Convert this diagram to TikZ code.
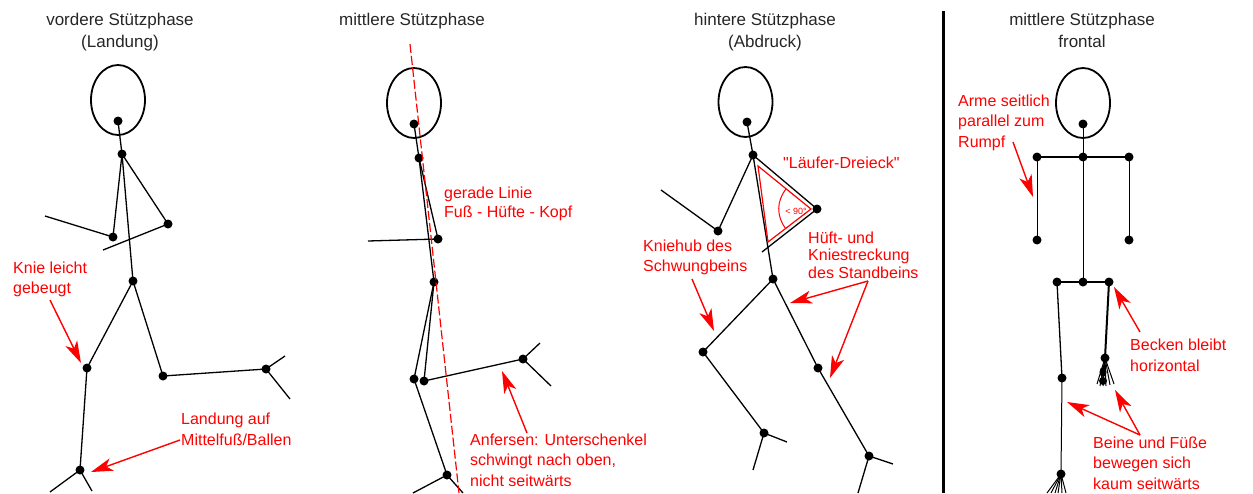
\documentclass[tikz,border=0pt]{standalone}
\usepackage{fontspec}
\setmainfont{Liberation Sans}[Ligatures=TeXOff]
\usetikzlibrary{arrows.meta,shapes.geometric,calc}

\begin{document}
\begin{tikzpicture}[x=1pt,y=-1pt,
  bone/.style={line width=1.3pt, black},
  thin bone/.style={line width=1pt, black},
  joint/.style={circle, fill=black, inner sep=0pt, minimum size=9pt},
  head/.style={draw, ellipse, line width=1.8pt, minimum width=54pt, minimum height=70pt, inner sep=0pt},
  title/.style={align=center, anchor=base, font=\fontsize{17}{22}\selectfont, text=black!85, inner sep=0pt},
  note/.style={align=left, anchor=base west, font=\fontsize{16}{20.5}\selectfont, text=red, inner sep=0pt},
  hint/.style={red, line width=1.4pt, -{Stealth[length=22pt, width=13pt, inset=6pt]}},
]
\useasboundingbox (0,0) rectangle (1253,493);
% multi-line texts are placed by the baseline of their last line

% ---------------- vordere Stuetzphase ----------------
\node[title] (t1) at (120,47) {vordere Stützphase\\(Landung)};
\node[head] (h1) at (118,100) {};
\node[joint] (a-neck) at (118,121) {};
\node[joint] (a-sh) at (122,154) {};
\node[joint] (a-elbL) at (113,237) {};
\node[joint] (a-elbR) at (168,224) {};
\node[joint] (a-hip) at (133,281) {};
\node[joint] (a-kneeF) at (87,368) {};
\node[joint] (a-footF) at (80,470) {};
\node[joint] (a-kneeB) at (163,376) {};
\node[joint] (a-footB) at (266,369) {};
\coordinate (a-handL) at (45,216);
\coordinate (a-handR) at (103,250);
\coordinate (a-toeF1) at (50,492);
\coordinate (a-toeF2) at (92,491);
\coordinate (a-toeB1) at (285,356);
\coordinate (a-toeB2) at (290,399);
\draw[bone] (a-neck.center) -- (a-sh.center) -- (a-hip.center);
\draw[bone] (a-sh.center) -- (a-elbL.center) -- (a-handL);
\draw[bone] (a-sh.center) -- (a-elbR.center) -- (a-handR);
\draw[bone] (a-hip.center) -- (a-kneeF.center) -- (a-footF.center);
\draw[bone] (a-toeF1) -- (a-footF.center) -- (a-toeF2);
\draw[bone] (a-hip.center) -- (a-kneeB.center) -- (a-footB.center);
\draw[bone] (a-toeB1) -- (a-footB.center) -- (a-toeB2);

\node[note] (n-knie) at (13,293.5) {Knie leicht\\gebeugt};
\coordinate (n-knie-s) at (50,300);
\coordinate (n-knie-e) at (81,363);
\draw[hint] (n-knie-s) -- (n-knie-e);
\node[note] (n-land) at (181,445) {Landung auf\\Mittelfuß/Ballen};
\coordinate (n-land-s) at (180,440);
\coordinate (n-land-e) at (91,472);
\draw[hint] (n-land-s) -- (n-land-e);

% ---------------- mittlere Stuetzphase ----------------
\node[title] (t2) at (412,25) {mittlere Stützphase};
\node[head] (h2) at (414,103) {};
\node[joint] (b-neck) at (414,124) {};
\node[joint] (b-sh) at (419,158) {};
\node[joint] (b-elb) at (438,239) {};
\node[joint] (b-hip) at (434,282) {};
\node[joint] (b-knee1) at (414,379) {};
\node[joint] (b-foot1) at (447,475) {};
\node[joint] (b-knee2) at (424,381) {};
\node[joint] (b-foot2) at (523,359) {};
\coordinate (b-hand) at (368,241);
\coordinate (b-toe1a) at (413,493);
\coordinate (b-toe1b) at (463,493);
\coordinate (b-toe2a) at (540,343);
\coordinate (b-toe2b) at (551,386);
\coordinate (b-top) at (410,44);
\coordinate (b-bot) at (459,493);
\draw[bone] (b-neck.center) -- (b-sh.center) -- (b-hip.center);
\draw[bone] (b-sh.center) -- (b-elb.center) -- (b-hand);
\draw[bone] (b-hip.center) -- (b-knee1.center) -- (b-foot1.center);
\draw[bone] (b-toe1a) -- (b-foot1.center) -- (b-toe1b);
\draw[bone] (b-hip.center) -- (b-knee2.center) -- (b-foot2.center);
\draw[bone] (b-toe2a) -- (b-foot2.center) -- (b-toe2b);
\draw[red, line width=1.2pt, dash pattern=on 9pt off 3pt] (b-top) -- (b-bot);

\node[note, font=\fontsize{16}{19}\selectfont] (n-linie) at (444,217) {gerade Linie\\Fuß - Hüfte - Kopf};
\node[note] (n-anf) at (470,486) {Anfersen: Unterschenkel\\schwingt nach oben,\\nicht seitwärts};
\coordinate (n-anf-s) at (527,433);
\coordinate (n-anf-e) at (502,371);
\draw[hint] (n-anf-s) -- (n-anf-e);

% ---------------- hintere Stuetzphase ----------------
\node[title] (t3) at (765,47) {hintere Stützphase\\(Abdruck)};
\node[head] (h3) at (745.5,102) {};
\node[joint] (c-neck) at (747,122) {};
\node[joint] (c-sh) at (753,155) {};
\node[joint] (c-elb1) at (718,231) {};
\node[joint] (c-elb2) at (817,209) {};
\node[joint] (c-hip) at (773,279) {};
\node[joint] (c-knee1) at (703,352) {};
\node[joint] (c-foot1) at (764,433) {};
\node[joint] (c-knee2) at (818,368) {};
\node[joint] (c-foot2) at (869,456) {};
\coordinate (c-hand1) at (661,190);
\coordinate (c-hand2) at (762,252);
\coordinate (c-toe1a) at (787,442);
\coordinate (c-toe1b) at (753,470);
\coordinate (c-toe2a) at (893,464);
\coordinate (c-toe2b) at (858,493);
\draw[bone] (c-neck.center) -- (c-sh.center) -- (c-hip.center);
\draw[bone] (c-sh.center) -- (c-elb1.center) -- (c-hand1);
\draw[bone] (c-sh.center) -- (c-elb2.center) -- (c-hand2);
\draw[bone] (c-hip.center) -- (c-knee1.center) -- (c-foot1.center);
\draw[bone] (c-toe1a) -- (c-foot1.center) -- (c-toe1b);
\draw[bone] (c-hip.center) -- (c-knee2.center) -- (c-foot2.center);
\draw[bone] (c-toe2a) -- (c-foot2.center) -- (c-toe2b);

% runner's triangle with its angle
\coordinate (tri1) at (758,166);
\coordinate (tri2) at (811,209);
\coordinate (tri3) at (768,242);
\draw[red, line width=1.2pt, line join=miter] (tri1) -- (tri2) -- (tri3) -- cycle;
\coordinate (arcA) at ($(tri2)!32pt!(tri1)$);
\coordinate (arcB) at ($(tri2)!32pt!(tri3)$);
\draw[red, line width=1pt] (arcA) to[bend right=38] (arcB);
\node[text=red, font=\fontsize{9}{10}\selectfont, inner sep=0pt] (ang) at (796,211) {< 90°};

\node[note] (n-dreieck) at (783,168) {"Läufer-Dreieck"};
\node[note] (n-kniehub) at (643,271.5) {Kniehub des\\Schwungbeins};
\coordinate (n-kniehub-s) at (692,279);
\coordinate (n-kniehub-e) at (714,331);
\draw[hint] (n-kniehub-s) -- (n-kniehub-e);
\node[note, font=\fontsize{16}{17.5}\selectfont] (n-streck) at (808,278) {Hüft- und\\Kniestreckung\\des Standbeins};
\coordinate (n-streck-s) at (868,281);
\coordinate (n-streck-e1) at (790,303);
\coordinate (n-streck-e2) at (830,378);
\draw[hint] (n-streck-s) -- (n-streck-e1);
\draw[hint] (n-streck-s) -- (n-streck-e2);

% ---------------- separator ----------------
\coordinate (sep-top) at (943,11);
\coordinate (sep-bot) at (943,493);
\draw[line width=3pt, black] (sep-top) -- (sep-bot);

% ---------------- mittlere Stuetzphase frontal ----------------
\node[title] (t4) at (1082,47) {mittlere Stützphase\\frontal};
\node[head] (h4) at (1083,103) {};
\node[joint] (d-neck) at (1083,124) {};
\node[joint] (d-shL) at (1037,157) {};
\node[joint] (d-shC) at (1083,157) {};
\node[joint] (d-shR) at (1129,157) {};
\node[joint] (d-handL) at (1037,240) {};
\node[joint] (d-handR) at (1129,240) {};
\node[joint] (d-pelL) at (1057,282) {};
\node[joint] (d-pelC) at (1083,282) {};
\node[joint] (d-pelR) at (1109,282) {};
\node[joint] (d-kneeL) at (1062,378) {};
\node[joint] (d-footL) at (1061,474) {};
\node[joint] (d-kneeR) at (1105,358) {};
\draw[thin bone] (d-neck.center) -- (d-pelC.center);
\draw[line width=2pt] (d-shL.center) -- (d-shR.center);
\draw[thin bone] (d-shL.center) -- (d-handL.center);
\draw[thin bone] (d-shR.center) -- (d-handR.center);
\draw[line width=1.6pt] (d-pelL.center) -- (d-pelR.center);
\draw[bone] (d-pelL.center) -- (d-kneeL.center);
\draw[thin bone] (d-kneeL.center) -- (d-footL.center);
\draw[line width=2pt] (d-pelR.center) -- (d-kneeR.center);
\foreach \tx in {1047,1051,1055,1058,1062,1066}
  \draw[thin bone] (d-footL.center) -- (\tx,493);
\foreach \tx/\ty in {1097/384,1100/386,1103/386,1106/386,1110/385,1114/384}
  \draw[thin bone] (d-kneeR.center) -- (\tx,\ty);
\fill (1103,372) ellipse [x radius=3.5pt, y radius=5pt];
\fill (1103,381) circle [radius=4pt];

\node[note] (n-arme) at (958,147) {Arme seitlich\\parallel zum\\Rumpf};
\coordinate (n-arme-s) at (1013,142);
\coordinate (n-arme-e) at (1033,197);
\draw[hint] (n-arme-s) -- (n-arme-e);
\node[note] (n-becken) at (1130,371) {Becken bleibt\\horizontal};
\coordinate (n-becken-s) at (1140,332);
\coordinate (n-becken-e) at (1114,287);
\draw[hint] (n-becken-s) -- (n-becken-e);
\node[note] (n-beine) at (1093,489) {Beine und Füße\\bewegen sich\\kaum seitwärts};
\coordinate (n-beine-s) at (1140,435);
\coordinate (n-beine-e1) at (1067,402);
\coordinate (n-beine-e2) at (1115,390);
\draw[hint] (n-beine-s) -- (n-beine-e1);
\draw[hint] (n-beine-s) -- (n-beine-e2);
\end{tikzpicture}
\end{document}
